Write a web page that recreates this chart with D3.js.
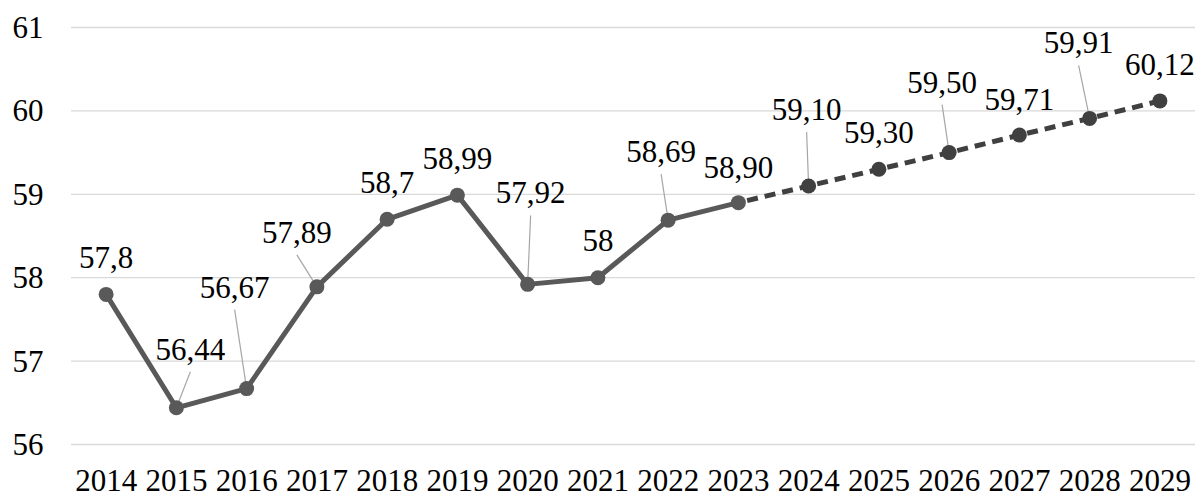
<!DOCTYPE html>
<html>
<head>
<meta charset="utf-8">
<script src="https://cdn.jsdelivr.net/npm/d3@7"></script>
<style>
  #chart text { font-family: "Liberation Serif", Tinos, "Times New Roman", serif !important; }
</style>
</head>
<body style="margin:0;padding:0;background:#fff">
<svg id="chart" width="1198" height="494"></svg>
<script>
// ---- data ----
const years = ["2014","2015","2016","2017","2018","2019","2020","2021","2022","2023","2024","2025","2026","2027","2028","2029"];
const values = [57.8, 56.44, 56.67, 57.89, 58.7, 58.99, 57.92, 58, 58.69, 58.90, 59.10, 59.30, 59.50, 59.71, 59.91, 60.12];
const valueLabels = ["57,8","56,44","56,67","57,89","58,7","58,99","57,92","58","58,69","58,90","59,10","59,30","59,50","59,71","59,91","60,12"];
const yTicks = [56, 57, 58, 59, 60, 61];
const lastActualIndex = 9; // 2023: solid up to here, dashed forecast afterwards

// ---- layout (label offsets relative to point, in px) ----
const labelOffsets = [
  [0,-26],[14,-48],[-12,-91],[-20,-44],[0,-26],[0,-26],[3,-81],[0,-27],
  [-7,-58],[0,-25],[-2,-66],[0,-26],[-7,-60],[0,-25],[-11,-65],[0,-26]
];
const leaders = [false,true,true,true,false,false,true,false,true,false,true,false,true,false,true,false];

const svg = d3.select("#chart");
const plotLeft = 71, plotRight = 1195, plotTop = 27.5, plotBottom = 444.5;

const x = d3.scalePoint().domain(years).range([plotLeft, plotRight]).padding(0.5);
const y = d3.scaleLinear().domain([56, 61]).range([plotBottom, plotTop]);

function styleText(sel) {
  return sel.attr("font-family", "Liberation Serif")
    .style("font-family", "'Liberation Serif', Tinos, 'Times New Roman', serif")
    .attr("font-size", 31).attr("fill", "#000");
}

// gridlines
svg.append("g").selectAll("line").data(yTicks).join("line")
  .attr("x1", plotLeft).attr("x2", plotRight)
  .attr("y1", d => y(d)).attr("y2", d => y(d))
  .attr("stroke", "#d9d9d9").attr("stroke-width", 1.3);

// y axis labels
svg.append("g").selectAll("text").data(yTicks).join("text")
  .call(styleText)
  .attr("x", 43.5).attr("y", d => y(d) + 10.5)
  .attr("text-anchor", "end")
  .text(d => d);

// x axis labels
svg.append("g").selectAll("text").data(years).join("text")
  .call(styleText)
  .attr("x", d => x(d)).attr("y", 491)
  .attr("text-anchor", "middle")
  .text(d => d);

const pts = years.map((yr, i) => ({ yr, v: values[i], i }));
const line = d3.line().x(d => x(d.yr)).y(d => y(d.v));

// leader lines
svg.append("g").selectAll("line").data(pts.filter(d => leaders[d.i])).join("line")
  .attr("x1", d => x(d.yr) + labelOffsets[d.i][0])
  .attr("y1", d => y(d.v) + labelOffsets[d.i][1] + 12)
  .attr("x2", d => x(d.yr))
  .attr("y2", d => y(d.v))
  .attr("stroke", "#a6a6a6").attr("stroke-width", 1.2);

// solid part
svg.append("path").datum(pts.slice(0, lastActualIndex + 1))
  .attr("d", line).attr("fill", "none")
  .attr("stroke", "#595959").attr("stroke-width", 5).attr("stroke-linejoin", "round");

// dashed forecast
svg.append("path").datum(pts.slice(lastActualIndex))
  .attr("d", line).attr("fill", "none")
  .attr("stroke", "#404040").attr("stroke-width", 5)
  .attr("stroke-dasharray", "11,7").attr("stroke-dashoffset", -9);

// markers
svg.append("g").selectAll("circle").data(pts).join("circle")
  .attr("cx", d => x(d.yr)).attr("cy", d => y(d.v)).attr("r", 7.5)
  .attr("fill", d => d.i <= lastActualIndex ? "#595959" : "#404040");

// data labels
svg.append("g").selectAll("text").data(pts).join("text")
  .call(styleText)
  .attr("x", d => x(d.yr) + labelOffsets[d.i][0])
  .attr("y", d => y(d.v) + labelOffsets[d.i][1])
  .attr("text-anchor", "middle")
  .text(d => valueLabels[d.i]);
</script>
</body>
</html>
